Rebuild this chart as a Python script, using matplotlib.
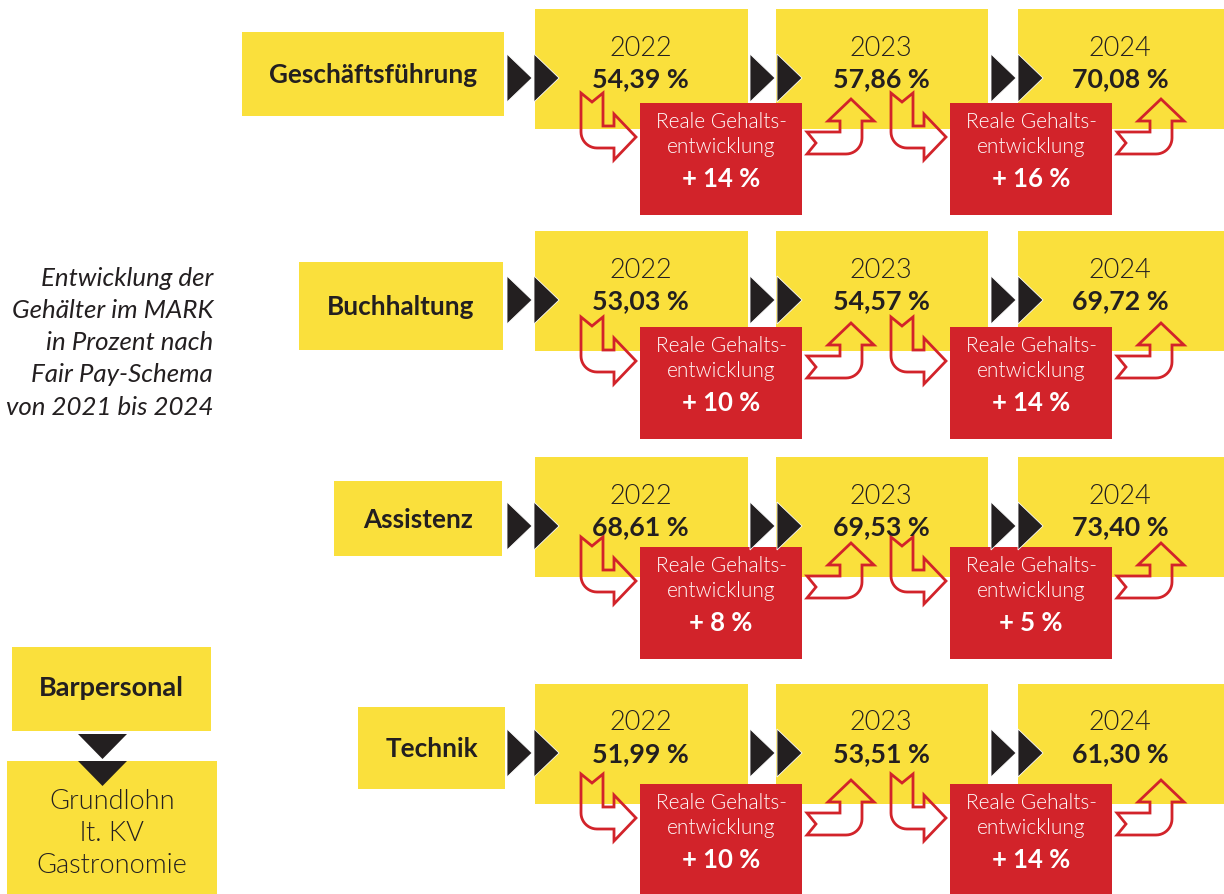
import matplotlib
matplotlib.use("Agg")
import matplotlib.pyplot as plt
from matplotlib.patches import Rectangle, Polygon
import numpy as np

# ---------------- data ----------------
roles = ["Geschäftsführung", "Buchhaltung", "Assistenz", "Technik"]
years = ["2022", "2023", "2024"]
values_2022 = [54.39, 53.03, 68.61, 51.99]
values_2023 = [57.86, 54.57, 69.53, 53.51]
values_2024 = [70.08, 69.72, 73.40, 61.30]
real_growth_22_23 = [14, 10, 8, 10]
real_growth_23_24 = [16, 14, 5, 14]
side_title = ["Entwicklung der", "Gehälter im MARK", "in Prozent nach",
              "Fair Pay-Schema", "von 2021 bis 2024"]
bar_title = "Barpersonal"
bar_note = ["Grundlohn", "lt. KV", "Gastronomie"]
red_label = ["Reale Gehalts-", "entwicklung"]

# ---------------- style ----------------
YEL = "#FAE03C"
RED = "#D2232A"
BLK = "#231F20"
FONT = "Lato"
LIGHT = 300

W, H = 1224, 895
fig = plt.figure(figsize=(W / 100, H / 100), dpi=100)
ax = fig.add_axes([0, 0, 1, 1])
ax.set_xlim(0, W)
ax.set_ylim(H, 0)
ax.axis("off")

# layout (pixels)
row_top = [10, 232, 458, 685]
red_top = [104, 328, 548, 785]
role_box = [(242, 33, 262, 84), (299, 263, 204, 88), (334, 482, 168, 75), (358, 708, 147, 82)]
year_x = [(535, 213), (776, 212), (1018, 206)]
year_h = 120
red_x = [(640, 162), (950, 162)]
red_h = 112
chev_x = [507, 750, 991]


def fmt(v):
    return f"{v:.2f}".replace(".", ",") + " %"


def rect(x, y, w, h, color, z=1):
    ax.add_patch(Rectangle((x, y), w, h, facecolor=color, edgecolor="none", zorder=z))


def chevrons(x0, yc, hh=24, tw=25, gap=27):
    for k in range(2):
        xs = x0 + k * gap
        ax.add_patch(Polygon([(xs, yc - hh), (xs + tw, yc), (xs, yc + hh)],
                             closed=True, facecolor=BLK, edgecolor="white",
                             linewidth=0.6, zorder=4))


def bent_arrow(C, u, v, L1=44, L2=22, Hl=22, Hw=23, h=11, r=16, n=9):
    C = np.array(C, float)
    u = np.array(u, float)
    v = np.array(v, float)
    pts = [(-L1, -h), (h - r, -h)]
    for t in np.linspace(-np.pi / 2, 0, 12):
        pts.append((h - r + r * np.cos(t), -h + r + r * np.sin(t)))
    pts += [(h, L2), (Hw, L2), (0, L2 + Hl), (-Hw, L2), (-h, L2), (-h, h),
            (-L1, h), (-L1 + n, 0)]
    xy = [C + a * u + b * v for a, b in pts]
    ax.add_patch(Polygon(xy, closed=True, facecolor="none", edgecolor=RED,
                         linewidth=2.0, joinstyle="miter", zorder=5))


values = [values_2022, values_2023, values_2024]
growth = [real_growth_22_23, real_growth_23_24]

for i, role in enumerate(roles):
    rt = row_top[i]
    # role box
    bx, by, bw, bh = role_box[i]
    rect(bx, by, bw, bh, YEL)
    ax.text(bx + bw / 2, by + bh / 2, role, ha="center", va="center",
            fontsize=18.8, fontweight="bold", color=BLK, family=FONT, zorder=6)
    # year boxes
    for j, (yx, yw) in enumerate(year_x):
        rect(yx, rt, yw, year_h, YEL)
        ax.text(yx + yw / 2 - 1, rt + 38, years[j], ha="center", va="center",
                fontsize=19.5, fontweight=LIGHT, color=BLK, family=FONT, zorder=6)
        ax.text(yx + yw / 2 - 1, rt + 69, fmt(values[j][i]), ha="center", va="center",
                fontsize=19.3, fontweight="bold", color=BLK, family=FONT, zorder=6)
    # chevrons
    for cx in chev_x:
        chevrons(cx, rt + 69)
    # red boxes + arrows
    for j, (rx, rw) in enumerate(red_x):
        ty = red_top[i]
        rect(rx, ty, rw, red_h, RED, z=3)
        ax.text(rx + rw / 2, ty + 18, red_label[0], ha="center", va="center",
                fontsize=15, fontweight=LIGHT, color="white", family=FONT, zorder=6)
        ax.text(rx + rw / 2, ty + 43, red_label[1], ha="center", va="center",
                fontsize=15, fontweight=LIGHT, color="white", family=FONT, zorder=6)
        ax.text(rx + rw / 2, ty + 75, f"+ {growth[j][i]} %", ha="center", va="center",
                fontsize=18.5, fontweight="bold", color="white", family=FONT, zorder=6)
        # arrow into red box (down then right)
        bent_arrow((rx - 48, ty + 34), (0, 1), (1, 0))
        # arrow out of red box (right then up)
        bent_arrow((rx + rw + 49, ty + 40), (1, 0), (0, -1))

# side title
for k, line in enumerate(side_title):
    ax.text(213, 278 + k * 32.3, line, ha="right", va="center", fontsize=18.6,
            fontstyle="italic", color=BLK, family=FONT)

# Barpersonal block
rect(12, 648, 199, 84, YEL)
ax.text(111.5, 688, bar_title, ha="center", va="center", fontsize=19.5,
        fontweight="bold", color=BLK, family=FONT)
rect(7, 762, 210, 135, YEL)
for yy in (735, 762):
    ax.add_patch(Polygon([(78, yy), (127, yy), (102.5, yy + 25)], closed=True,
                         facecolor=BLK, edgecolor="none", zorder=4))
for k, line in enumerate(bar_note):
    ax.text(112, 802 + k * 32, line, ha="center", va="center", fontsize=19.5,
            fontweight=LIGHT, color=BLK, family=FONT)

fig.savefig("out.png", dpi=100)
